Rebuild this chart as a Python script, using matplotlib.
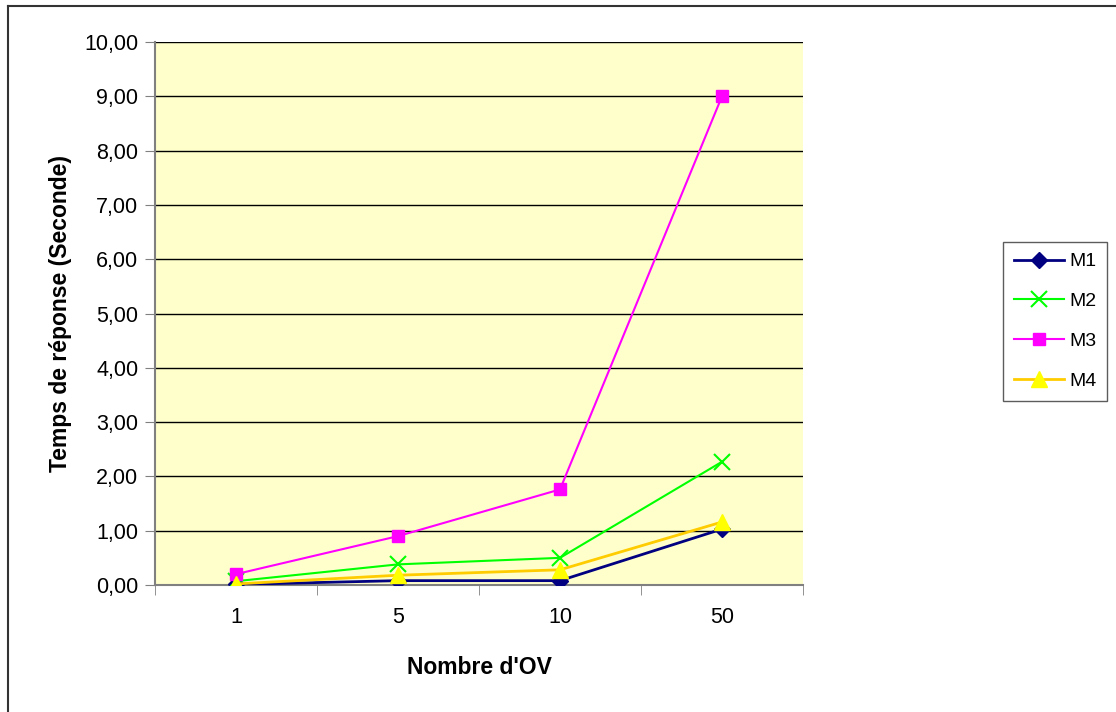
import numpy as np
import matplotlib
matplotlib.use('Agg')
import matplotlib.pyplot as plt
from matplotlib.lines import Line2D
from matplotlib.ticker import FixedLocator, FuncFormatter

plt.rcParams['font.family'] = ['Liberation Sans', 'DejaVu Sans']

categories = ['1', '5', '10', '50']
m1 = [0.01, 0.08, 0.08, 1.03]
m2 = [0.07, 0.38, 0.50, 2.27]
m3 = [0.20, 0.90, 1.76, 9.00]
m4 = [0.02, 0.18, 0.28, 1.16]

fig = plt.figure(figsize=(11.16, 7.12), dpi=100)
ax = fig.add_axes([155/1116, 1-585/712, (803-155)/1116, (585-42)/712])
ax.set_facecolor('#FFFFCC')

xx = np.arange(len(categories))
ax.plot(xx, m1, color='#000080', lw=2, marker='D', ms=8, mfc='#000080', mec='#000080', label='M1', zorder=3)
ax.plot(xx, m2, color='#00FF00', lw=1.5, marker='x', ms=11, mew=1.5, label='M2', zorder=3)
ax.plot(xx, m3, color='#FF00FF', lw=1.5, marker='s', ms=8, mfc='#FF00FF', mec='#FF00FF', label='M3', zorder=3)
ax.plot(xx, m4, color='#FFCC00', lw=2, marker='^', ms=11, mfc='#FFFF00', mec='#FFFF00', label='M4', zorder=3)

ax.set_xlim(-0.5, len(categories)-0.5)
ax.set_ylim(0, 10)
ax.set_yticks(np.arange(0, 11, 1))
ax.yaxis.set_major_formatter(FuncFormatter(lambda v, p: ('%.2f' % v).replace('.', ',')))
ax.yaxis.grid(True, color='black', lw=1)
ax.set_axisbelow(True)

ax.set_xticks(xx)
ax.set_xticklabels(categories)
ax.xaxis.set_minor_locator(FixedLocator(np.arange(-0.5, len(categories), 1)))
ax.tick_params(axis='x', which='major', length=0, pad=16, labelsize=15.5)
ax.tick_params(axis='x', which='minor', length=7, direction='out', color='#808080')
ax.tick_params(axis='y', length=7, direction='out', color='#808080', labelsize=15.5, pad=5)

for side in ['top', 'right']:
    ax.spines[side].set_visible(False)
ax.spines['left'].set_color('#808080')
ax.spines['bottom'].set_color('#808080')
ax.spines['left'].set_linewidth(1.5)
ax.spines['bottom'].set_linewidth(1.5)

ax.set_xlabel("Nombre d'OV", fontsize=16.5, fontweight='bold', labelpad=20)
ax.set_ylabel('Temps de réponse (Seconde)', fontsize=16.5, fontweight='bold', labelpad=9)

leg = ax.legend(loc='upper left', bbox_to_anchor=(1003/1116, 1-242/712), bbox_transform=fig.transFigure,
                frameon=True, fancybox=False, fontsize=14, handlelength=2.6,
                borderpad=0.55, labelspacing=1.15, handletextpad=0.25, borderaxespad=0)
leg.get_frame().set_edgecolor('#333333')
leg.get_frame().set_linewidth(1)

# outer chart border (top and left edges only visible)
fig.add_artist(Line2D([8/1116, 1], [1-6/712, 1-6/712], transform=fig.transFigure, color='#333333', lw=1.5))
fig.add_artist(Line2D([8/1116, 8/1116], [0, 1-6/712], transform=fig.transFigure, color='#333333', lw=1.5))

fig.savefig('out.png', dpi=100, facecolor='white')
